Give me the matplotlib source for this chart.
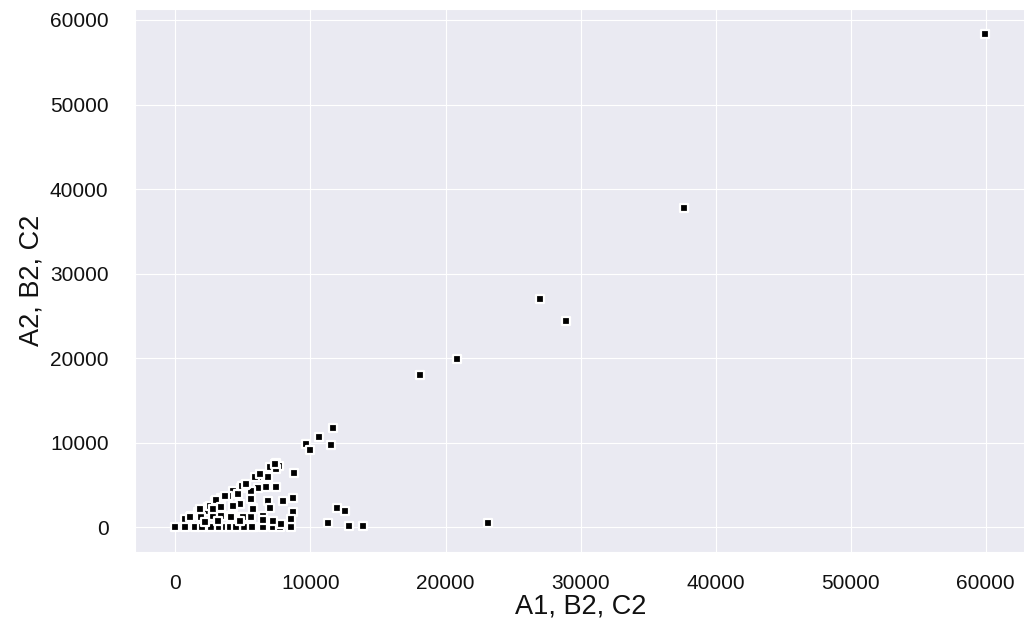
import matplotlib
matplotlib.use("Agg")
import matplotlib.pyplot as plt
import seaborn as sns

# Paired observations: first column value vs. second column value
x_vals = [
    0, 1430, 2420, 2660, 3530, 4140, 4660, 5100, 5820, 6490, 7230, 7720, 8530,
    1940, 3240, 3780, 4020, 4510, 5700,
    11300, 12850, 13900, 11960, 12520,
    9690, 9930, 10630, 11490, 11660,
    7470, 7670, 6980, 7470, 8780, 6860, 6120, 6730, 7470, 6100, 5570,
    5130, 4880, 4270, 4640, 5620, 6860, 7970, 8700, 3400, 3900, 2900,
    4270, 4760, 3400, 2420, 2170, 1680, 1180, 690, 5740, 6980,
    2790, 3400, 4140, 4880, 5620, 6490, 6490, 7230, 8700, 8580,
    1920, 2170, 7840,
    700, 1060, 1800, 2560, 3030, 3650, 4920, 5250, 5870, 6240, 7350,
    2790, 3400, 4270, 5000, 5750, 4140, 4760, 3160,
    37670, 27020, 28940, 20840, 18140, 23180, 59980,
]
y_vals = [
    0, 0, 0, 0, 0, 0, 0, 0, 0, 0, 0, 0, 0,
    0, 0, 0, 0, 0, 0,
    470, 200, 100, 2240, 1960,
    9800, 9100, 10700, 9750, 11700,
    7660, 7270, 7160, 6880, 6370, 5980, 5980, 4800, 4800, 4700, 4300,
    5000, 4700, 4300, 3900, 3340, 3150, 3150, 3420, 3500, 3700, 3150,
    2400, 2700, 2160, 2360, 1970, 1770, 1380, 980, 2240, 2240,
    1380, 1380, 1380, 1180, 1180, 1380, 860, 700, 1770, 980,
    1180, 590, 390,
    80, 1180, 2160, 2560, 3220, 3740, 4920, 5100, 5900, 6290, 7470,
    2160, 2360, 2560, 1180, 2160, 1180, 790, 790,
    37820, 26970, 24370, 19890, 18000, 550, 58370,
]

x_label = "A1, B2, C2"
y_label = "A2, B2, C2"

sns.set_style("darkgrid")
plt.rcParams["font.family"] = ["Liberation Sans", "DejaVu Sans"]

fig = plt.figure(figsize=(10.24, 6.32), dpi=100)
ax = fig.add_axes([0.1318, 0.1266, 0.870, 0.859])

ax.scatter(x_vals, y_vals, marker="s", s=30, color="black",
           edgecolor="white", linewidth=1.6, zorder=3)

ax.set_xticks([0, 10000, 20000, 30000, 40000, 50000, 60000])
ax.set_yticks([0, 10000, 20000, 30000, 40000, 50000, 60000])
ax.tick_params(axis="x", labelsize=15, colors="#111111", length=0, pad=16)
ax.tick_params(axis="y", labelsize=15, colors="#111111", length=0, pad=19)
ax.set_xlabel(x_label, fontsize=19.5, color="#111111", labelpad=0)
ax.set_ylabel(y_label, fontsize=19.5, color="#111111", labelpad=4)

fig.savefig("out.png", dpi=100)
